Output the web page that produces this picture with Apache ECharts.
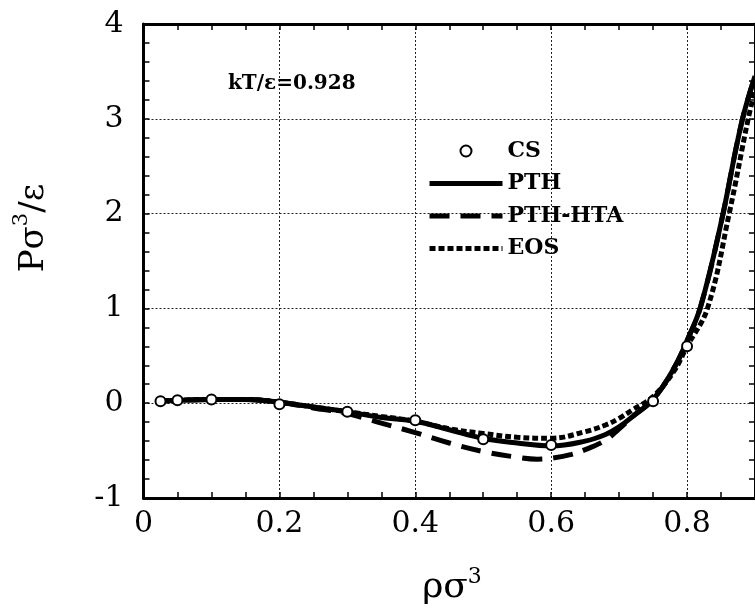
<!DOCTYPE html>
<html>
<head>
<meta charset="utf-8">
<script src="https://cdn.jsdelivr.net/npm/echarts@6/dist/echarts.min.js"></script>
<style>html,body{margin:0;padding:0;background:#fff}#c{width:755px;height:611px}</style>
</head>
<body>
<div id="c"></div>
<script>
// ---- data ----
var rhoPTH = [0.02, 0.05, 0.1, 0.15, 0.2, 0.25, 0.3, 0.35, 0.4, 0.45, 0.5, 0.55, 0.6, 0.65, 0.68, 0.7, 0.72, 0.75, 0.78, 0.8, 0.82, 0.85, 0.88, 0.9];
var pPTH   = [0.02, 0.03, 0.04, 0.04, 0.01, -0.04, -0.09, -0.15, -0.19, -0.28, -0.37, -0.42, -0.45, -0.4, -0.33, -0.25, -0.14, 0.04, 0.36, 0.66, 1.02, 1.9, 2.95, 3.45];

var rhoHTA = [0.02, 0.05, 0.1, 0.15, 0.2, 0.25, 0.3, 0.35, 0.4, 0.45, 0.5, 0.55, 0.58, 0.6, 0.63, 0.65, 0.68, 0.7, 0.72, 0.75, 0.78, 0.8, 0.82, 0.85, 0.88, 0.9];
var pHTA   = [0.02, 0.03, 0.04, 0.04, 0.01, -0.05, -0.11, -0.21, -0.31, -0.42, -0.51, -0.57, -0.59, -0.58, -0.54, -0.49, -0.39, -0.27, -0.14, 0.04, 0.36, 0.66, 1.02, 1.9, 2.95, 3.45];

var rhoEOS = [0.02, 0.05, 0.1, 0.15, 0.2, 0.25, 0.3, 0.35, 0.4, 0.45, 0.5, 0.55, 0.6, 0.65, 0.68, 0.7, 0.72, 0.75, 0.78, 0.8, 0.83, 0.862, 0.89, 0.9];
var pEOS   = [0.02, 0.03, 0.04, 0.04, 0.01, -0.04, -0.09, -0.14, -0.19, -0.27, -0.32, -0.36, -0.37, -0.3, -0.23, -0.16, -0.07, 0.07, 0.33, 0.6, 1.0, 2.0, 3.0, 3.3];

var rhoCS = [0.025, 0.05, 0.1, 0.2, 0.3, 0.4, 0.5, 0.6, 0.75, 0.8];
var pCS   = [0.02, 0.03, 0.04, -0.01, -0.09, -0.18, -0.38, -0.44, 0.02, 0.6];

var xTicks = [0, 0.2, 0.4, 0.6, 0.8];
var yTicks = [-1, 0, 1, 2, 3, 4];
var seriesNames = ['CS', 'PTH', 'PTH-HTA', 'EOS'];
var annotation = 'kT/\u03b5=0.928';

function pairs(xs, ys) { return xs.map(function (x, i) { return [x, ys[i]]; }); }

var SERIF = '"DejaVu Serif", "Liberation Serif", serif';
var chart = echarts.init(document.getElementById('c'));

var dotted = { show: true, lineStyle: { color: '#222', width: 1, type: [2, 2] } };
var tick = { show: true, inside: true, length: 6, lineStyle: { color: '#000', width: 1.5 } };
var CLEAR = 'rgba(0,0,0,0)';

var option = {
  animation: false,
  backgroundColor: '#fff',
  grid: { left: 143.5, right: -3.6, top: 24, bottom: 113 },
  legend: {
    orient: 'vertical',
    left: 422, top: 135,
    itemWidth: 73, itemHeight: 11, itemGap: 10.5,
    data: seriesNames,
    lineStyle: { width: 'inherit' },
    textStyle: { fontFamily: SERIF, fontWeight: 'bold', fontSize: 22, lineHeight: 22, color: '#000' }
  },
  xAxis: [
    { type: 'value', position: 'bottom', min: 0, max: 0.9, interval: 0.2,
      axisLine: { show: true, onZero: false, lineStyle: { color: '#000', width: 3 } },
      axisTick: { show: false },
      axisLabel: { color: '#000', fontFamily: SERIF, fontSize: 30, margin: 11, showMaxLabel: false,
        formatter: function (v) { return xTicks.indexOf(Math.round(v * 10) / 10) >= 0 ? String(v) : ''; } },
      splitLine: dotted },
    { type: 'value', position: 'bottom', min: 0, max: 0.9, interval: 0.05,
      axisLine: { show: false, onZero: false }, axisLabel: { show: false }, splitLine: { show: false },
      axisTick: tick },
    { type: 'value', position: 'top', min: 0, max: 0.9, interval: 0.05,
      axisLine: { show: true, onZero: false, lineStyle: { color: '#000', width: 3 } }, axisLabel: { show: false }, splitLine: { show: false },
      axisTick: tick }
  ],
  yAxis: [
    { type: 'value', position: 'left', min: -1, max: 4, interval: 1,
      axisLine: { show: true, onZero: false, lineStyle: { color: '#000', width: 3 } },
      axisTick: { show: false },
      axisLabel: { color: '#000', fontFamily: SERIF, fontSize: 30, margin: 20,
        formatter: function (v) { return yTicks.indexOf(v) >= 0 ? String(v) : ''; } },
      splitLine: dotted },
    { type: 'value', position: 'left', min: -1, max: 4, interval: 0.2,
      axisLine: { show: false, onZero: false }, axisLabel: { show: false }, splitLine: { show: false },
      axisTick: tick },
    { type: 'value', position: 'right', min: -1, max: 4, interval: 0.2,
      axisLine: { show: true, onZero: false, lineStyle: { color: '#000', width: 3 } }, axisLabel: { show: false }, splitLine: { show: false },
      axisTick: tick }
  ],
  series: [
    { name: 'CS', type: 'scatter', data: pairs(rhoCS, pCS), symbol: 'circle', symbolSize: 10, z: 5,
      itemStyle: { color: '#fff', borderColor: '#000', borderWidth: 2, opacity: 1 } },
    { name: 'PTH', type: 'line', data: pairs(rhoPTH, pPTH), smooth: 0.4, symbol: 'none', z: 3,
      lineStyle: { color: '#000', width: 5, type: 'solid' }, itemStyle: { color: CLEAR } },
    { name: 'PTH-HTA', type: 'line', data: pairs(rhoHTA, pHTA), smooth: 0.4, symbol: 'none', z: 2,
      lineStyle: { color: '#000', width: 5, type: [20, 11] }, itemStyle: { color: CLEAR } },
    { name: 'EOS', type: 'line', data: pairs(rhoEOS, pEOS), smooth: 0.4, symbol: 'none', z: 2,
      lineStyle: { color: '#000', width: 5, type: [6, 3] }, itemStyle: { color: CLEAR } }
  ],
  graphic: [
    { type: 'text', left: 228, top: 74, z: 10,
      style: { text: annotation, fontFamily: SERIF, fontWeight: 'bold', fontSize: 20, fill: '#000' } },
    { type: 'text', x: 452, y: 586, z: 10,
      style: { text: '{b|\u03c1\u03c3}{s|3}', align: 'center', verticalAlign: 'middle',
        rich: { b: { fontFamily: SERIF, fontSize: 36, fill: '#000', verticalAlign: 'bottom', lineHeight: 40 },
                s: { fontFamily: SERIF, fontSize: 22, fill: '#000', verticalAlign: 'top', lineHeight: 40 } } } },
    { type: 'text', x: 31, y: 228, rotation: Math.PI / 2, z: 10,
      style: { text: '{b|P\u03c3}{s|3}{b|/\u03b5}', align: 'center', verticalAlign: 'middle',
        rich: { b: { fontFamily: SERIF, fontSize: 34, fill: '#000', verticalAlign: 'bottom', lineHeight: 40 },
                s: { fontFamily: SERIF, fontSize: 21, fill: '#000', verticalAlign: 'top', lineHeight: 40 } } } }
  ]
};
chart.setOption(option);
</script>
</body>
</html>
